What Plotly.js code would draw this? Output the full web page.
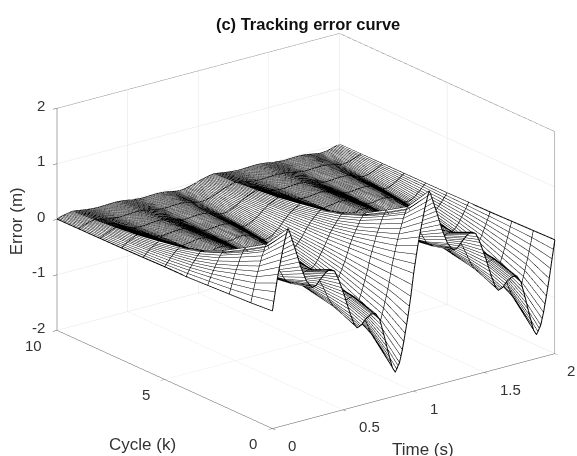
<!DOCTYPE html>
<html><head><meta charset="utf-8">
<script src="https://cdn.plot.ly/plotly-3.0.1.min.js"></script>
<style>html,body{margin:0;padding:0;background:#fff}#c{width:577px;height:456px}</style></head>
<body><div id="c"></div>
<script>
const cycles=[0,1,2,3,4,5,6,7,8,9,10];
const timeOnePeriod=[0,.02,.04,.06,.08,.10,.11,.12,.14,.17,.20,.24,.28,.31,.34,.38,.41,.44,.47,.51,.55,.58,.60,.63,.66,.70,.73,.76,.79,.82,.85,.87,.90,.92,.94,.96,.98];
const time=timeOnePeriod.concat(timeOnePeriod.map(t=>t+1),[2]);
const c0=[.12,.45,.75,1.0,1.25,1.45,1.53,1.47,1.3,1.05,.78,.5,.35,.37,.46,.56,.59,.54,.36,.05,-.3,-.52,-.59,-.56,-.47,-.41,-.42,-.55,-.85,-1.18,-1.48,-1.57,-1.42,-1.2,-.92,-.62,-.28];
const c1=[.09,.32,.53,.71,.88,1.02,1.07,1.03,.91,.74,.55,.35,.25,.26,.32,.39,.41,.38,.25,.04,-.21,-.36,-.41,-.39,-.33,-.29,-.29,-.39,-.6,-.83,-1.04,-1.1,-.99,-.84,-.64,-.43,-.2];
const c2=[.07,.24,.41,.54,.68,.78,.83,.79,.7,.57,.42,.27,.19,.2,.25,.3,.32,.29,.19,.03,-.16,-.28,-.32,-.3,-.25,-.22,-.23,-.3,-.46,-.64,-.8,-.85,-.77,-.65,-.5,-.33,-.15];
const c3=[.05,.18,.29,.39,.49,.57,.6,.57,.51,.41,.3,.2,.14,.14,.18,.22,.23,.21,.14,.02,-.12,-.2,-.23,-.22,-.18,-.16,-.16,-.21,-.33,-.46,-.58,-.61,-.55,-.47,-.36,-.24,-.11];
const c4=[.03,.13,.21,.28,.35,.41,.43,.41,.36,.29,.22,.14,.1,.1,.13,.16,.17,.15,.1,.01,-.08,-.15,-.17,-.16,-.13,-.11,-.12,-.15,-.24,-.33,-.41,-.44,-.4,-.34,-.26,-.17,-.08];
const c5=[.03,.09,.16,.21,.26,.3,.32,.31,.27,.22,.16,.11,.07,.08,.1,.12,.12,.11,.08,.01,-.06,-.11,-.12,-.12,-.1,-.09,-.09,-.12,-.18,-.25,-.31,-.33,-.3,-.25,-.19,-.13,-.06];
const c6=[.02,.07,.12,.155,.19,.22,.24,.23,.2,.16,.12,.08,.05,.06,.07,.09,.09,.08,.06,.01,-.05,-.08,-.09,-.09,-.07,-.06,-.07,-.09,-.13,-.18,-.23,-.24,-.22,-.19,-.14,-.1,-.04];
const c7=[.014,.05,.09,.115,.14,.17,.176,.17,.15,.12,.09,.058,.04,.043,.053,.064,.068,.062,.041,.006,-.035,-.06,-.068,-.064,-.054,-.047,-.048,-.063,-.098,-.136,-.17,-.18,-.163,-.138,-.106,-.071,-.032];
const c8=[.01,.038,.064,.085,.106,.123,.13,.125,.11,.089,.066,.043,.03,.031,.039,.048,.05,.046,.031,.004,-.026,-.044,-.05,-.048,-.04,-.035,-.036,-.047,-.072,-.1,-.126,-.133,-.121,-.102,-.078,-.053,-.024];
const c9=[.007,.027,.045,.06,.075,.087,.092,.088,.078,.063,.047,.03,.021,.022,.028,.034,.035,.032,.022,.003,-.018,-.031,-.035,-.034,-.028,-.025,-.025,-.033,-.051,-.071,-.089,-.094,-.085,-.072,-.055,-.037,-.017];
const c10=[.005,.02,.034,.045,.056,.065,.069,.066,.059,.047,.035,.023,.016,.017,.021,.025,.027,.024,.016,.002,-.014,-.023,-.027,-.025,-.021,-.018,-.019,-.025,-.038,-.053,-.067,-.071,-.064,-.054,-.041,-.028,-.013];
const endOfRun=[.05,.04,.03,.02,.015,.01,.008,.006,.004,.002,.001];
const rows=[c0,c1,c2,c3,c4,c5,c6,c7,c8,c9,c10];
const z=rows.map((r,i)=>r.concat(r,[endOfRun[i]]));
const timeTicks=[0,.5,1,1.5,2], timeLabels=['0','0.5','1','1.5','2'];
const cycleTicks=[0,5,10], cycleLabels=['0','5','10'];
const errorTicks=[-2,-1,0,1,2], errorLabels=['-2','-1','0','1','2'];

const FONT='Liberation Sans, Arial, sans-serif';
const axisCommon={showbackground:false,gridcolor:'#e4e4e4',gridwidth:1,zeroline:false,showspikes:false,
  showline:true,linecolor:'#555',linewidth:1,ticks:'outside',ticklen:5,tickcolor:'#555',showticklabels:false,title:{text:''}};
const R=1.284;
const surface={type:'surface',x:time,y:cycles,z:z,showscale:false,hoverinfo:'skip',
  colorscale:[[0,'#fff'],[1,'#fff']],
  lighting:{ambient:1,diffuse:0,specular:0,roughness:1,fresnel:0},
  contours:{
    x:{show:true,start:0,end:2,size:.01,color:'#000',width:1,highlight:false},
    y:{show:true,start:0,end:10,size:1,color:'#000',width:1,highlight:false},
    z:{show:false,highlight:false}}};
const boxEdges={type:'scatter3d',mode:'lines',hoverinfo:'skip',showlegend:false,
  x:[0,0,2,2,2,2],y:[10,10,10,0,0,0],z:[-2,2,2,2,-2,2],line:{color:'#555',width:1}};
const meshLine=(x,y,z,w)=>({type:'scatter3d',mode:'lines',hoverinfo:'skip',showlegend:false,x:x,y:y,z:z,line:{color:'#000',width:w}});
const edges=[
  meshLine(cycles.map(()=>0),cycles,z.map(r=>r[0]),2),
  meshLine(cycles.map(()=>2),cycles,z.map(r=>r[r.length-1]),2)];
const cycleLines=cycles.map((k,i)=>meshLine(time,time.map(()=>k),z[i],(i===0||i===10)?2:1.5));
function label(x,y,z,text,anchor,xs,ys,size,angle){
  return {x:x,y:y,z:z,text:text,showarrow:false,xanchor:anchor,yanchor:'middle',xshift:xs,yshift:ys,
    textangle:angle||0,font:{family:FONT,size:size,color:'#333'}};
}
const ann=[];
timeTicks.forEach((t,i)=>ann.push(label(t,0,-2,timeLabels[i],'left',t===2?10:14,-17,15)));
cycleTicks.forEach((k,i)=>ann.push(label(0,k,-2,cycleLabels[i],'right',-13,-15,15)));
errorTicks.forEach((v,i)=>ann.push(label(0,10,v,errorLabels[i],'right',-10,3,15)));
ann.push(label(1,0,-2,'Time (s)','center',9,-58,17));
ann.push(label(0,5,-2,'Cycle (k)','center',-22,-65,17));
ann.push(label(0,10,0,'Error (m)','center',-41,-2,17,-90));
const layout={width:577,height:456,margin:{l:0,r:0,t:0,b:0},paper_bgcolor:'#fff',showlegend:false,
  title:{text:'<b>(c) Tracking error curve</b>',x:0.534,y:0.947,xanchor:'center',yanchor:'middle',font:{family:FONT,size:16.5,color:'#111'}},
  scene:{domain:{x:[0,1],y:[0,1]},aspectmode:'manual',aspectratio:{x:1.558,y:1.558,z:1.039},annotations:ann,
    camera:{projection:{type:'orthographic'},eye:{x:-.569*R-.058,y:-.746*R+.05,z:.348*R+.012},center:{x:-.058,y:.05,z:.012},up:{x:0,y:0,z:1}},
    xaxis:Object.assign({},axisCommon,{range:[0,2],tickvals:timeTicks}),
    yaxis:Object.assign({},axisCommon,{range:[0,10],tickvals:cycleTicks}),
    zaxis:Object.assign({},axisCommon,{range:[-2,2],tickvals:errorTicks})}};
Plotly.newPlot('c',[surface,boxEdges].concat(edges,cycleLines),layout,{displayModeBar:false});
</script></body></html>
